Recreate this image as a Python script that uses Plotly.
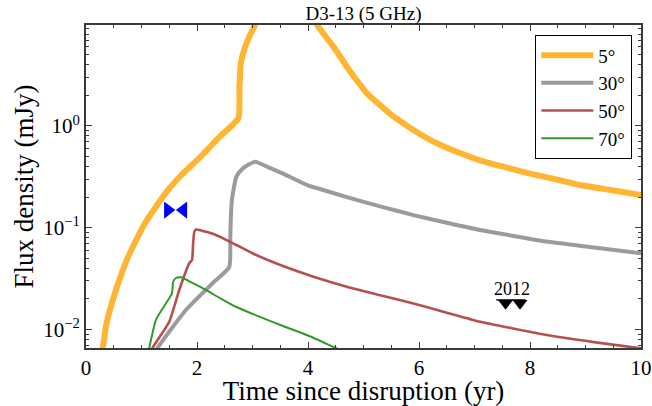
import plotly.graph_objects as go
import numpy as np

# ---- data ----
x_5 = [0.22, 0.30, 0.37, 0.54, 0.76, 1.06, 1.45, 1.72, 2.05, 2.41, 2.745, 2.765, 2.79, 2.85, 2.94, 3.03, 3.12,
       4.00, 4.16, 4.30, 4.46, 4.58, 4.70, 4.88, 5.06, 5.30, 5.54, 5.85, 6.20, 6.60, 7.10, 7.50, 8.00, 8.45, 8.90, 9.45, 10.0]
y_5 = [0.005, 0.0066, 0.0115, 0.0244, 0.0519, 0.110, 0.225, 0.33, 0.49, 0.785, 1.19, 2.44, 4.14, 5.59, 7.55, 9.47, 12.0,
       14.0, 9.9, 7.8, 6.0, 4.8, 3.83, 2.8, 2.1, 1.6, 1.24, 0.95, 0.73, 0.58, 0.46, 0.40, 0.34, 0.30, 0.263, 0.235, 0.21]

x_30 = [1.25, 1.29, 1.80, 2.28, 2.58, 2.60, 2.61, 2.63, 2.71, 2.82, 2.94, 3.05, 3.30, 3.55, 4.00, 4.35, 4.70, 5.30, 5.90, 6.50, 7.10, 7.70, 8.30, 9.15, 10.0]
y_30 = [0.006, 0.0066, 0.0155, 0.0284, 0.041, 0.08, 0.125, 0.19, 0.318, 0.38, 0.42, 0.446, 0.39, 0.34, 0.26, 0.228, 0.20, 0.162, 0.133, 0.112, 0.095, 0.083, 0.073, 0.064, 0.056]

x_50 = [1.17, 1.20, 1.50, 1.68, 1.86, 1.91, 1.93, 1.95, 1.98, 2.20, 2.40, 2.70, 3.00, 3.55, 4.10, 4.70, 5.30, 5.90, 6.50, 7.10, 7.70, 8.30, 9.15, 10.0]
y_50 = [0.006, 0.0066, 0.0119, 0.0244, 0.0447, 0.048, 0.07, 0.09, 0.096, 0.090, 0.082, 0.068, 0.056, 0.042, 0.033, 0.0263, 0.0217, 0.018, 0.0146, 0.0119, 0.0102, 0.0088, 0.0075, 0.0065]

x_70 = [1.12, 1.14, 1.26, 1.50, 1.55, 1.57, 1.62, 1.71, 1.90, 2.16, 2.42, 2.70, 3.10, 3.55, 4.00, 4.52, 4.70]
y_70 = [0.006, 0.0066, 0.0124, 0.0202, 0.0226, 0.0294, 0.032, 0.0325, 0.029, 0.0244, 0.0202, 0.0167, 0.0135, 0.0108, 0.0087, 0.0065, 0.0059]

series_names = ["5°", "30°", "50°", "70°"]

obs_x = [1.475, 1.755]
obs_y = [0.149, 0.149]

lim_x = [7.56, 7.82]
lim_y = [0.0181, 0.0181]
lim_bar_x = [7.39, 7.92]
lim_bar_y = [0.0195, 0.0195]
lim_label = "2012"
lim_label_x = 7.68
lim_label_y = 0.0252

title_text = "D3-13 (5 GHz)"
xlabel = "Time since disruption (yr)"
ylabel = "Flux density (mJy)"
x_ticks = [0, 2, 4, 6, 8, 10]
y_ticks = [0.01, 0.1, 1.0]
y_ticktext = ["10<sup>−2</sup>", "10<sup>−1</sup>", "10<sup>0</sup>"]

FONT = "Liberation Serif"
AX = "#3a3a3a"

fig = go.Figure()
styles = [("#FFB432", 6), ("#9B9B9B", 4), ("#B5504F", 2.6), ("#2E9A2E", 2)]
for i, (xs, ys) in enumerate([(x_5, y_5), (x_30, y_30), (x_50, y_50), (x_70, y_70)]):
    c, w = styles[i]
    fig.add_trace(go.Scatter(x=xs, y=ys, mode="lines", name=series_names[i],
                             line=dict(color=c, width=w, shape="spline", smoothing=0.5)))

fig.add_trace(go.Scatter(x=obs_x, y=obs_y, mode="markers", showlegend=False,
                         marker=dict(symbol=["triangle-right", "triangle-left"], size=15, color="#0000FF",
                                     line=dict(width=0))))
fig.add_trace(go.Scatter(x=lim_bar_x, y=lim_bar_y, mode="lines", showlegend=False,
                         line=dict(color="black", width=1.3)))
fig.add_trace(go.Scatter(x=lim_x, y=lim_y, mode="markers", showlegend=False,
                         marker=dict(symbol="triangle-down", size=13, color="black", line=dict(width=0))))
fig.add_annotation(x=lim_label_x, y=np.log10(lim_label_y), text=lim_label, showarrow=False,
                   font=dict(family=FONT, size=18, color="black"))

y_minor = [m * 10.0 ** e for e in range(-3, 1) for m in range(2, 10)]
y_minor = [v for v in y_minor if 0.0066 <= v <= 9.85]

fig.update_layout(
    width=652, height=406,
    margin=dict(l=86, r=11, t=25, b=58, autoexpand=False),
    paper_bgcolor="white", plot_bgcolor="white",
    font=dict(family=FONT, color="black"),
    title=dict(text=title_text, x=0.5, xref="paper", y=1 - 13 / 406, yref="container",
               yanchor="middle", xanchor="center", automargin=False,
               font=dict(family=FONT, size=19, color="black")),
    showlegend=True,
    legend=dict(x=0.9838, xanchor="right", y=0.969, yanchor="top",
                bordercolor="black", borderwidth=1.3, bgcolor="white", itemwidth=52,
                font=dict(family=FONT, size=19, color="black"), tracegroupgap=0),
)
fig.update_xaxes(range=[0, 10], showgrid=False, zeroline=False, automargin=False,
                 showline=True, linecolor=AX, linewidth=2, mirror="ticks",
                 ticks="inside", ticklen=6, tickwidth=1.3, tickcolor=AX,
                 tickvals=x_ticks, tickfont=dict(family=FONT, size=21, color="black"),
                 minor=dict(ticks="inside", ticklen=3, tickwidth=1, tickcolor=AX, dtick=0.5, showgrid=False),
                 title=dict(text=xlabel, font=dict(family=FONT, size=27, color="black"), standoff=3))
fig.update_yaxes(type="log", range=[-2.183, 0.993], showgrid=False, zeroline=False, automargin=False,
                 showline=True, linecolor=AX, linewidth=2, mirror="ticks",
                 ticks="inside", ticklen=6, tickwidth=1.3, tickcolor=AX,
                 tickvals=y_ticks, ticktext=y_ticktext, tickfont=dict(family=FONT, size=21, color="black"),
                 minor=dict(ticks="inside", ticklen=3, tickwidth=1, tickcolor=AX, tickvals=y_minor, showgrid=False),
                 title=dict(text=ylabel, font=dict(family=FONT, size=27, color="black"), standoff=2))

fig.write_html("out.html", config={"displayModeBar": False},
               post_script="document.body.style.margin='0px';")
